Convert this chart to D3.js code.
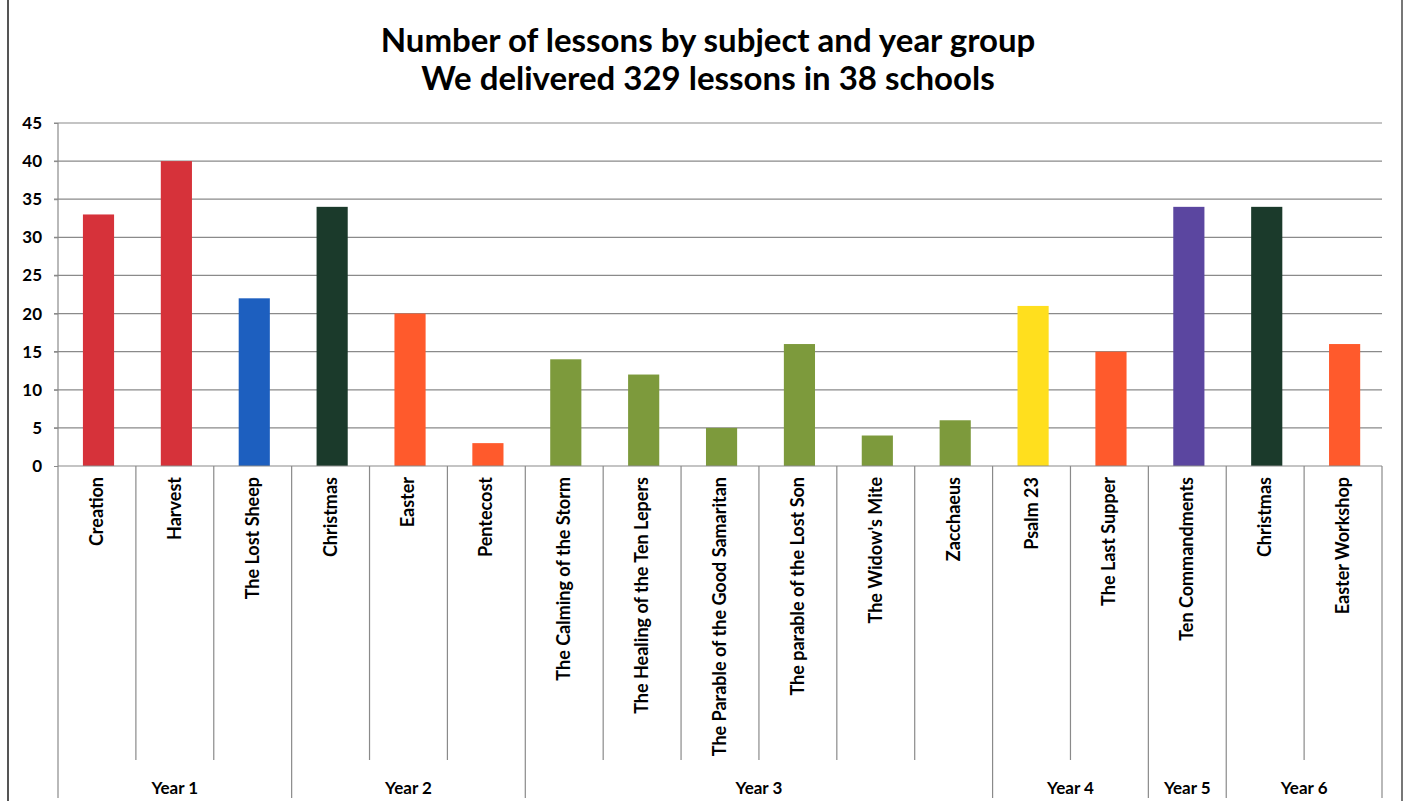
<!DOCTYPE html>
<html>
<head>
<meta charset="utf-8">
<script src="https://cdn.jsdelivr.net/npm/d3@7"></script>
<style>
  html, body { margin: 0; padding: 0; background: #fff; }
  svg { display: block; }
  text { font-family: Lato, "Open Sans", sans-serif; font-weight: bold; fill: #000; }
</style>
</head>
<body>
<svg id="chart" width="1405" height="801"></svg>
<script>
// ---- data ----
const categories = ["Creation", "Harvest", "The Lost Sheep", "Christmas", "Easter", "Pentecost",
  "The Calming of the Storm", "The Healing of the Ten Lepers", "The Parable of the Good Samaritan",
  "The parable of the Lost Son", "The Widow's Mite", "Zacchaeus", "Psalm 23", "The Last Supper",
  "Ten Commandments", "Christmas", "Easter Workshop"];
const lessons = [33, 40, 22, 34, 20, 3, 14, 12, 5, 16, 4, 6, 21, 15, 34, 34, 16];
const yearGroups = ["Year 1", "Year 2", "Year 3", "Year 4", "Year 5", "Year 6"];
const yearGroupSizes = [3, 3, 6, 2, 1, 2];
const yTicks = [0, 5, 10, 15, 20, 25, 30, 35, 40, 45];
const titleLines = ["Number of lessons by subject and year group", "We delivered 329 lessons in 38 schools"];

// colours per bar (style, separate from the data)
const barColors = ["#d6323a", "#d6323a", "#1d5fbf", "#1b3a2b", "#ff5a2c", "#ff5a2c",
  "#7d9a3c", "#7d9a3c", "#7d9a3c", "#7d9a3c", "#7d9a3c", "#7d9a3c",
  "#ffdf1e", "#ff5a2c", "#5b46a0", "#1b3a2b", "#ff5a2c"];

(function () {
// ---- layout ----
const plotLeft = 58, plotRight = 1382, plotTop = 123, base = 466;
const catBottom = 760, groupBottom = 798;
const svg = d3.select("#chart");

const idx = categories.map((d, i) => i);
const x = d3.scaleBand().domain(idx).range([plotLeft, plotRight]).padding(0);
const y = d3.scaleLinear().domain([0, 45]).range([base, plotTop]);
const bw = x.bandwidth();

// page border lines (scan edges)
svg.append("line").attr("x1", 8).attr("x2", 8).attr("y1", 0).attr("y2", 801)
  .attr("stroke", "#555").attr("stroke-width", 2);
svg.append("line").attr("x1", 1402).attr("x2", 1402).attr("y1", 0).attr("y2", 801)
  .attr("stroke", "#777").attr("stroke-width", 2);

// title
svg.selectAll("text.title").data(titleLines).join("text")
  .attr("class", "title")
  .attr("x", 708).attr("y", (d, i) => 52 + i * 38)
  .attr("text-anchor", "middle")
  .style("font-size", "33px")
  .text(d => d);

// grid lines
svg.append("g").selectAll("line").data(yTicks.filter(t => t > 0)).join("line")
  .attr("x1", plotLeft - 4).attr("x2", plotRight)
  .attr("y1", d => y(d)).attr("y2", d => y(d))
  .attr("stroke", "#8a8a8a").attr("stroke-width", 1.2);

// y axis
const yAxis = svg.append("g").attr("transform", `translate(${plotLeft},0)`)
  .call(d3.axisLeft(y).tickValues(yTicks).tickSize(4).tickPadding(12));
yAxis.select(".domain").remove();
yAxis.selectAll(".tick line").attr("stroke", "#8a8a8a");
yAxis.selectAll(".tick text").style("font-size", "17px").style("font-family", "Lato, sans-serif").style("font-weight", "bold");

// bars
svg.append("g").selectAll("rect").data(lessons).join("rect")
  .attr("x", (d, i) => x(i) + bw * 0.32)
  .attr("width", bw * 0.4)
  .attr("y", d => y(d))
  .attr("height", d => base - y(d))
  .attr("fill", (d, i) => barColors[i]);

// x axis baseline
svg.append("line").attr("x1", plotLeft).attr("x2", plotRight).attr("y1", base).attr("y2", base)
  .attr("stroke", "#8a8a8a").attr("stroke-width", 1.2);

// group boundaries
const groupStarts = [];
let acc = 0;
yearGroupSizes.forEach(s => { groupStarts.push(acc); acc += s; });
const boundaryIdx = d3.range(categories.length + 1);
const isGroupEdge = new Set([...groupStarts, categories.length]);
const edgeX = i => (i < categories.length ? x(i) : plotRight);

svg.append("g").selectAll("line").data(boundaryIdx).join("line")
  .attr("x1", d => edgeX(d)).attr("x2", d => edgeX(d))
  .attr("y1", base).attr("y2", d => isGroupEdge.has(d) ? groupBottom : catBottom)
  .attr("stroke", "#8a8a8a").attr("stroke-width", 1.2);

// y axis vertical line
svg.append("line").attr("x1", plotLeft).attr("x2", plotLeft).attr("y1", plotTop).attr("y2", base)
  .attr("stroke", "#8a8a8a").attr("stroke-width", 1.2);

// category labels (rotated)
svg.append("g").selectAll("text").data(categories).join("text")
  .attr("transform", (d, i) => `translate(${x(i) + bw / 2 + 6},${base + 11}) rotate(-90)`)
  .attr("text-anchor", "end")
  .style("font-size", "18px")
  .text(d => d);

// year group labels
svg.append("g").selectAll("text").data(yearGroups).join("text")
  .attr("x", (d, i) => {
    const s = groupStarts[i], e = s + yearGroupSizes[i];
    return (edgeX(s) + edgeX(e)) / 2;
  })
  .attr("y", 794)
  .attr("text-anchor", "middle")
  .style("font-size", "17px")
  .text(d => d);
})();
</script>
</body>
</html>
